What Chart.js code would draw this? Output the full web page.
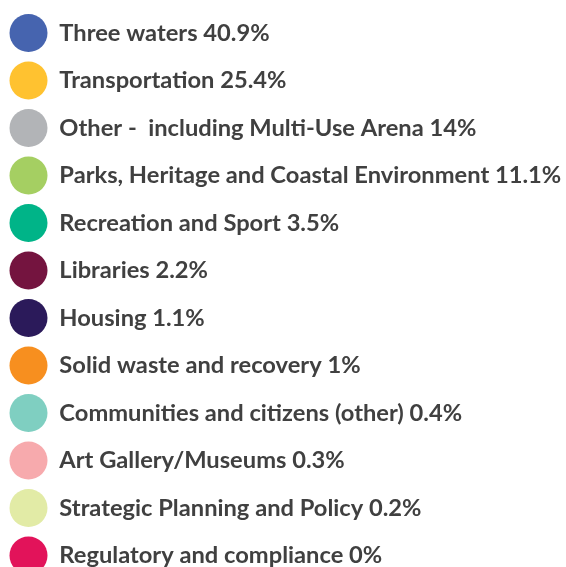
<!DOCTYPE html>
<html>
<head>
<meta charset="utf-8">
<script src="https://cdn.jsdelivr.net/npm/chart.js@4"></script>
<style>
html,body{margin:0;padding:0;background:#fff;overflow:hidden;width:566px;height:567px;}
canvas{display:block;}
</style>
</head>
<body>
<canvas id="c" width="1300" height="700"></canvas>
<script>
const categories = [
  "Three waters",
  "Transportation",
  "Other -  including Multi-Use Arena",
  "Parks, Heritage and Coastal Environment",
  "Recreation and Sport",
  "Libraries",
  "Housing",
  "Solid waste and recovery",
  "Communities and citizens (other)",
  "Art Gallery/Museums",
  "Strategic Planning and Policy",
  "Regulatory and compliance"
];
const shares = [40.9, 25.4, 14, 11.1, 3.5, 2.2, 1.1, 1, 0.4, 0.3, 0.2, 0];
const colors = [
  "#4664AF", "#FFC230", "#B2B4B7", "#A5CF62", "#00B488", "#74143F",
  "#2B1A5A", "#F78F1F", "#7FCFC1", "#F7AAAD", "#E2EBA6", "#E2135A"
];
const labels = categories.map((c, i) => c + " " + shares[i] + "%");

new Chart(document.getElementById("c"), {
  type: "doughnut",
  data: {
    labels: labels,
    datasets: [{
      data: shares,
      backgroundColor: colors,
      borderWidth: 0
    }]
  },
  options: {
    responsive: false,
    animation: false,
    layout: { padding: { top: 4.5, left: 0 } },
    plugins: {
      tooltip: { enabled: false },
      legend: {
        position: "left",
        align: "start",
        maxWidth: 640,
        labels: {
          boxWidth: 38,
          boxHeight: 38,
          useBorderRadius: true,
          borderRadius: 19,
          padding: 9.5,
          color: "#404040",
          font: { family: "Lato, 'Open Sans', sans-serif", size: 23.7, weight: "bold" }
        }
      }
    }
  }
});
</script>
</body>
</html>
